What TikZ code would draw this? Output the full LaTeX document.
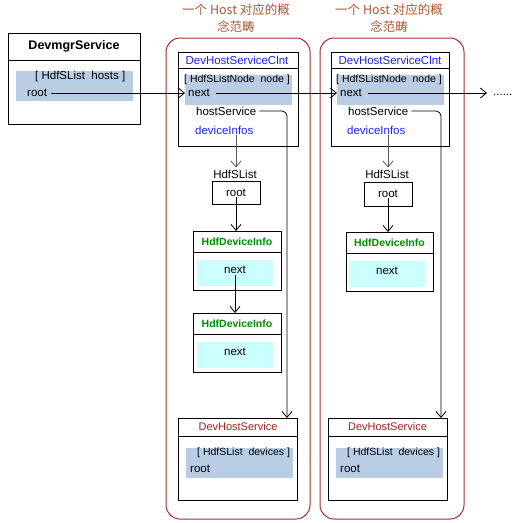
\documentclass[tikz,border=0pt]{standalone}
\usepackage{fontspec}
\setmainfont{Liberation Sans}
\newfontfamily\cjk{Noto Sans CJK SC}
\usetikzlibrary{arrows.meta}
\definecolor{hlblue}{RGB}{184,204,228}
\definecolor{hlcyan}{RGB}{204,255,255}
\definecolor{ttblue}{RGB}{30,30,240}
\definecolor{ttgreen}{RGB}{0,140,0}
\definecolor{ttred}{RGB}{165,30,30}
\definecolor{frred}{RGB}{165,45,45}
\definecolor{cjkbrown}{RGB}{170,85,50}
\begin{document}
\begin{tikzpicture}[x=1pt,y=-1pt,
  box/.style={draw=black,line width=0.8pt,inner sep=0pt,anchor=north west},
  hl/.style={fill=hlblue,inner sep=0pt,anchor=north west},
  hc/.style={fill=hlcyan,inner sep=0pt,anchor=north west},
  frame/.style={draw=frred,line width=1pt,rounded corners=14pt},
  txt/.style={inner sep=1pt,font=\fontsize{11.5}{13}\selectfont},
  btxt/.style={inner sep=1pt,font=\fontsize{10.5}{12}\selectfont},
  lt/.style={anchor=west},
  arr/.style={-{Straight Barb[length=6pt,width=10pt]},line width=0.8pt},
  garr/.style={arr,draw=black!65},
  cjktitle/.style={align=center,text=cjkbrown,font=\cjk\fontsize{12.5}{17}\selectfont,inner sep=0pt}
]
\useasboundingbox (0,0) rectangle (522,523);

% ---------- frames ----------
\draw[frame] (166,38) rectangle (310,519);
\draw[frame] (320,38) rectangle (464,519);
\node[cjktitle] (cap1) at (236,18.5) {一个 Host 对应的概\\念范畴};
\node[cjktitle] (cap2) at (389,18.5) {一个 Host 对应的概\\念范畴};

% ---------- DevmgrService ----------
\node[box,minimum width=132pt,minimum height=91pt] (dm) at (8,33) {};
\draw[line width=0.8pt] (8,60) -- (140,60);
\node[txt,font=\bfseries\fontsize{12.5}{14}\selectfont] (dmt) at (74,46) {DevmgrService};
\node[hl,minimum width=117pt,minimum height=30pt] (dmhl) at (16,71) {};
\node[txt,lt] (dmb) at (34,77) {[ HdfSList\ \ hosts ]};
\node[txt,lt] (dmroot) at (26,93) {root};

% ---------- column 1 ----------
\node[box,minimum width=120pt,minimum height=94pt] (c1) at (178,52) {};
\draw[line width=0.8pt] (178,68) -- (298,68);
\node[txt,text=ttblue] (c1t) at (237,60) {DevHostServiceClnt};
\node[hl,minimum width=107pt,minimum height=30pt] (c1hl) at (185,75) {};
\node[btxt,lt] (c1b) at (183,80) {[ HdfSListNode\ \ node ]};
\node[txt,lt] (c1next) at (187,93) {next};
\node[txt,lt] (c1hs) at (195,111) {hostService};
\node[txt,lt,text=ttblue] (c1di) at (194,130) {deviceInfos};

\node[txt] (c1sl) at (235,174) {HdfSList};
\node[box,minimum width=48pt,minimum height=23pt] (c1rb) at (212,181) {};
\node[txt] (c1root) at (236,192.5) {root};

\node[box,minimum width=88pt,minimum height=59pt] (c1i1) at (193,231) {};
\draw[line width=0.8pt] (193,252) -- (281,252);
\node[txt,font=\bfseries\fontsize{10.5}{12}\selectfont,text=ttgreen] (c1i1t) at (237,241.5) {HdfDeviceInfo};
\node[hc,minimum width=76pt,minimum height=26pt] (c1i1c) at (197,260) {};
\node[txt] (c1i1n) at (235,270) {next};

\node[box,minimum width=88pt,minimum height=59pt] (c1i2) at (193,313) {};
\draw[line width=0.8pt] (193,334) -- (281,334);
\node[txt,font=\bfseries\fontsize{10.5}{12}\selectfont,text=ttgreen] (c1i2t) at (237,323.5) {HdfDeviceInfo};
\node[hc,minimum width=76pt,minimum height=26pt] (c1i2c) at (197,342) {};
\node[txt] (c1i2n) at (235,352) {next};

\node[box,minimum width=119pt,minimum height=82pt] (c1h) at (178,418) {};
\draw[line width=0.8pt] (178,436) -- (297,436);
\node[txt,text=ttred,font=\fontsize{11}{13}\selectfont] (c1ht) at (238,426.5) {DevHostService};
\node[hl,minimum width=107pt,minimum height=30pt] (c1hhl) at (186,448) {};
\node[btxt,lt] (c1hb) at (196,453) {[ HdfSList\ \ devices ]};
\node[txt,lt] (c1hr) at (189,469) {root};
\coordinate (c1hin) at (287,418);

% ---------- column 2 ----------
\node[box,minimum width=118pt,minimum height=94pt] (c2) at (331,52) {};
\draw[line width=0.8pt] (331,68) -- (449,68);
\node[txt,text=ttblue] (c2t) at (390,60) {DevHostServiceClnt};
\node[hl,minimum width=107pt,minimum height=30pt] (c2hl) at (337,75) {};
\node[btxt,lt] (c2b) at (335,80) {[ HdfSListNode\ \ node ]};
\node[txt,lt] (c2next) at (339,93) {next};
\node[txt,lt] (c2hs) at (347,111) {hostService};
\node[txt,lt,text=ttblue] (c2di) at (346,130) {deviceInfos};

\node[txt] (c2sl) at (387,174) {HdfSList};
\node[box,minimum width=48pt,minimum height=24pt] (c2rb) at (364,182) {};
\node[txt] (c2root) at (388,193.5) {root};

\node[box,minimum width=87pt,minimum height=59pt] (c2i1) at (346,232) {};
\draw[line width=0.8pt] (346,253) -- (433,253);
\node[txt,font=\bfseries\fontsize{10.5}{12}\selectfont,text=ttgreen] (c2i1t) at (389.5,242.5) {HdfDeviceInfo};
\node[hc,minimum width=76pt,minimum height=26pt] (c2i1c) at (349,261) {};
\node[txt] (c2i1n) at (387,271) {next};

\node[box,minimum width=119pt,minimum height=82pt] (c2h) at (328,418) {};
\draw[line width=0.8pt] (328,436) -- (447,436);
\node[txt,text=ttred,font=\fontsize{11}{13}\selectfont] (c2ht) at (387.5,426.5) {DevHostService};
\node[hl,minimum width=107pt,minimum height=30pt] (c2hhl) at (336,448) {};
\node[btxt,lt] (c2hb) at (346,453) {[ HdfSList\ \ devices ]};
\node[txt,lt] (c2hr) at (339,469) {root};
\coordinate (c2hin) at (441,418);

% ---------- tail ----------
\coordinate (tail) at (487,93);
\node[txt,anchor=west,inner sep=0pt] (dots) at (493,95) {......};

% ---------- connectors ----------
\draw[arr] (dmroot.east) ++(3,0) -- ([xshift=-2pt]c1next.west);
\draw[arr] ([xshift=5pt]c1next.east) -- ([xshift=-2pt]c2next.west);
\draw[arr] ([xshift=5pt]c2next.east) -- (tail);

\draw[garr] (c1root.north |- c1di.south) -- ([yshift=1pt]c1sl.north -| c1root.north);
\draw[arr] (c1root.south) -- (c1i1.north -| c1root.south);
\draw[arr] (c1i1n.south) -- (c1i2.north -| c1i1n.south);
\draw[arr,rounded corners=5pt] ([xshift=2pt]c1hs.east) -| (c1hin);

\draw[garr] (c2root.north |- c2di.south) -- ([yshift=1pt]c2sl.north -| c2root.north);
\draw[arr] (c2root.south) -- (c2i1.north -| c2root.south);
\draw[arr,rounded corners=5pt] ([xshift=2pt]c2hs.east) -| (c2hin);
\end{tikzpicture}
\end{document}
